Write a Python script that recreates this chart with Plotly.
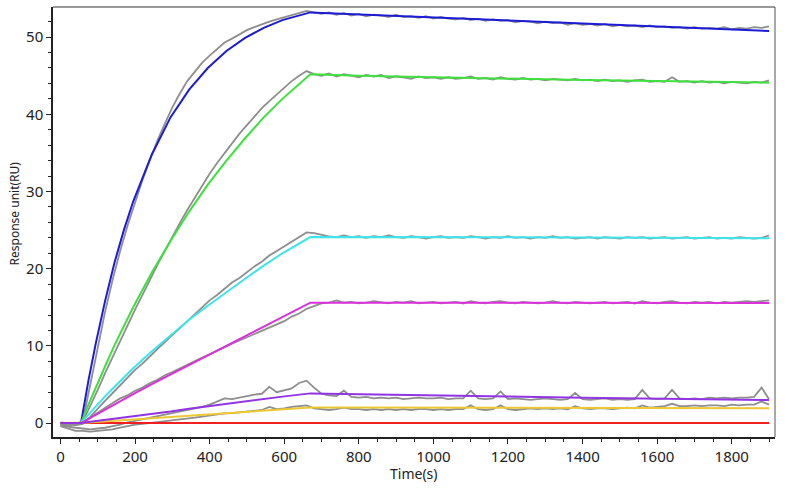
import plotly.graph_objects as go

# raw sensorgram time grid (s)
t_raw = list(range(0, 1901, 20))

raw_blue = [
    -0.2, -0.3, -0.2, 0.3, 5.0, 10.0, 14.5, 18.6, 22.3, 25.6,
    28.6, 31.5, 34.1, 36.6, 38.8, 40.9, 42.7, 44.3, 45.5, 46.7,
    47.6, 48.5, 49.3, 49.8, 50.4, 50.9, 51.3, 51.7, 52.0, 52.3,
    52.6, 52.8, 53.1, 53.4, 53.2, 53.0, 53.2, 52.9, 53.1, 52.8,
    53.0, 52.7, 52.9, 52.8, 52.6, 52.9, 52.6, 52.7, 52.5, 52.7,
    52.4, 52.6, 52.4, 52.3, 52.5, 52.2, 52.4, 52.1, 52.3, 52.1,
    52.2, 51.9, 52.1, 52.0, 51.8, 52.0, 51.8, 51.9, 51.6, 51.8,
    51.6, 51.7, 51.5, 51.7, 51.4, 51.6, 51.4, 51.5, 51.3, 51.5,
    51.3, 51.4, 51.2, 51.3, 51.1, 51.3, 51.1, 51.2, 51.1, 51.3,
    51.0, 51.2, 51.1, 51.3, 51.2, 51.4,
]
raw_green = [
    0.1, 0.0, -0.1, 0.2, 2.2, 4.3, 6.5, 8.6, 10.7, 12.7,
    14.7, 16.6, 18.6, 20.5, 22.3, 24.2, 25.9, 27.6, 29.2, 30.8,
    32.3, 33.7, 35.0, 36.3, 37.5, 38.6, 39.7, 40.8, 41.7, 42.6,
    43.5, 44.3, 45.0, 45.6, 45.2, 45.0, 45.3, 44.9, 45.2, 45.0,
    44.8, 45.1, 44.9, 45.1, 44.7, 44.9, 44.8, 44.6, 44.9, 44.7,
    44.8, 44.6, 44.8, 44.6, 44.7, 44.9, 44.6, 44.7, 44.5, 44.8,
    44.6, 44.5, 44.7, 44.5, 44.6, 44.4, 44.6, 44.5, 44.4, 44.6,
    44.4, 44.5, 44.3, 44.5, 44.3, 44.4, 44.2, 44.4, 44.5, 44.2,
    44.3, 44.2, 44.8, 44.2, 44.3, 44.1, 44.3, 44.1, 44.2, 44.0,
    44.2, 44.1, 44.0, 44.2, 44.1, 44.4,
]
raw_cyan = [
    -0.1, 0.0, -0.2, 0.0, 0.8, 1.9, 2.9, 3.9, 4.9, 5.8,
    6.9, 7.7, 8.7, 9.6, 10.5, 11.4, 12.3, 13.3, 14.1, 15.0,
    15.9, 16.6, 17.4, 18.2, 18.8, 19.6, 20.3, 20.9, 21.7, 22.3,
    22.9, 23.5, 24.1, 24.7, 24.6, 24.4, 24.2, 24.1, 24.3, 24.1,
    24.2, 24.0, 24.2, 24.1, 24.3, 24.1, 24.0, 24.2, 24.1, 23.9,
    24.1, 24.2, 24.0, 24.1, 24.0, 24.2, 24.1, 23.9, 24.1, 24.0,
    24.2, 24.0, 24.1, 23.9, 24.1, 24.0, 24.2, 24.0, 24.1, 23.9,
    24.0, 24.1, 23.9, 24.1, 24.0, 23.9, 24.1, 24.0, 24.1, 23.9,
    24.0, 24.1, 23.9, 24.0, 24.1, 23.9, 24.0, 24.1, 23.9, 24.0,
    23.9, 24.1, 24.0, 23.9, 24.0, 24.3,
]
raw_magenta = [
    -0.2, -0.1, -0.3, -0.1, 0.7, 1.4, 2.0, 2.6, 3.2, 3.6,
    4.2, 4.6, 5.2, 5.6, 6.2, 6.6, 7.1, 7.6, 8.0, 8.5,
    8.9, 9.4, 9.8, 10.3, 10.7, 11.1, 11.6, 11.9, 12.4, 12.8,
    13.2, 13.8, 14.2, 14.8, 15.2, 15.5, 15.6, 15.9, 15.6, 15.7,
    15.5, 15.6, 15.8, 15.6, 15.5, 15.7, 15.6, 15.8, 15.5, 15.6,
    15.7, 15.5, 15.6, 15.7, 15.5, 15.8, 15.6, 15.5, 15.7, 15.8,
    15.6, 15.5, 15.7, 15.6, 15.5, 15.6, 15.8, 15.6, 15.5, 15.7,
    15.6, 15.5, 15.6, 15.7, 15.5, 15.6, 15.7, 15.5, 15.8, 15.6,
    15.5, 15.7, 15.8, 15.6, 15.5, 15.7, 15.6, 15.7, 15.5, 15.7,
    15.6, 15.7, 15.8, 15.7, 15.8, 15.9,
]
raw_purple = [
    -0.3, -0.5, -0.6, -0.7, -0.8, -0.7, -0.6, -0.4, -0.2, 0.1,
    0.3, 0.5, 0.7, 0.9, 1.1, 1.3, 1.5, 1.7, 1.9, 2.1,
    2.4, 2.8, 3.2, 3.1, 3.3, 3.5, 3.7, 3.8, 4.7, 4.0,
    4.3, 4.5, 5.2, 5.5, 4.6, 3.8, 3.6, 3.5, 4.2, 3.4,
    3.3, 3.4, 3.2, 3.3, 3.2, 3.3, 3.1, 3.2, 3.3, 3.2,
    3.2, 3.3, 3.1, 3.2, 3.2, 4.2, 3.2, 3.1, 3.2, 4.1,
    3.1, 3.2, 3.1, 3.0, 3.1, 3.2, 3.1, 3.0, 3.1, 3.9,
    3.1, 3.0, 3.1, 3.2, 3.0, 3.1, 3.0, 3.1, 4.3, 3.2,
    3.1, 3.2, 4.3, 3.2, 3.1, 3.2, 3.1, 3.3, 3.2, 3.3,
    3.2, 3.3, 3.3, 3.4, 4.6, 3.1,
]
raw_yellow = [
    -0.4, -0.7, -1.0, -1.0, -1.1, -1.0, -0.9, -0.8, -0.6, -0.4,
    -0.2, -0.1, 0.0, 0.1, 0.2, 0.3, 0.45, 0.55, 0.7, 0.85,
    1.0, 1.1, 1.25, 1.3, 1.4, 1.5, 1.6, 1.7, 2.1, 1.8,
    1.9, 2.1, 2.2, 2.3, 1.9, 1.8, 1.7, 1.8, 2.0, 1.8,
    1.8, 1.7, 1.8, 1.7, 1.8, 1.7, 1.8, 1.7, 1.8, 1.8,
    1.7, 1.8, 1.7, 1.8, 1.8, 2.3, 1.8, 1.7, 1.8, 2.3,
    1.8, 1.7, 1.8, 1.9, 1.8, 1.9, 1.8, 1.9, 1.8, 2.2,
    1.9, 1.8, 1.9, 1.9, 1.8, 1.9, 2.0, 1.9, 2.3, 2.0,
    2.1, 2.2, 2.5, 2.2, 2.2, 2.3, 2.2, 2.3, 2.3, 2.2,
    2.4, 2.3, 2.4, 2.4, 2.8, 2.4,
]

# fitted curves
t_fit = [0, 55, 75, 95, 120, 145, 170, 195, 245, 295, 345, 395, 445, 495,
         545, 595, 670, 800, 1000, 1200, 1400, 1600, 1800, 1900]

fit_blue = [0, 0, 5.5, 10.4, 15.9, 20.8, 25.0, 28.7, 34.8, 39.6, 43.2, 46.0, 48.2,
            49.9, 51.2, 52.2, 53.2, 52.95, 52.55, 52.15, 51.75, 51.4, 51.0, 50.8]
fit_green = [0, 0, 2.4, 4.7, 7.4, 10.1, 12.6, 15.0, 19.5, 23.6, 27.4, 30.9, 34.0,
             36.9, 39.6, 42.0, 45.2, 45.0, 44.8, 44.6, 44.45, 44.3, 44.15, 44.1]
fit_cyan = [0, 0, 1.1, 2.2, 3.5, 4.7, 5.9, 7.1, 9.3, 11.4, 13.4, 15.2, 17.0,
            18.7, 20.4, 22.0, 24.1, 24.1, 24.1, 24.05, 24.05, 24.0, 24.0, 23.95]
fit_magenta = [0, 0, 0.55, 1.1, 1.78, 2.45, 3.1, 3.75, 5.05, 6.3, 7.55, 8.8, 10.05,
               11.3, 12.5, 13.75, 15.6, 15.6, 15.6, 15.6, 15.58, 15.57, 15.56, 15.55]
fit_purple = [0, 0, 0.13, 0.25, 0.41, 0.56, 0.72, 0.88, 1.19, 1.5, 1.87, 2.2, 2.52,
              2.83, 3.13, 3.43, 3.85, 3.73, 3.58, 3.43, 3.3, 3.17, 3.04, 2.98]
fit_yellow = [0, 0, 0.07, 0.13, 0.21, 0.3, 0.38, 0.46, 0.63, 0.79, 0.96, 1.12, 1.29,
              1.45, 1.62, 1.78, 2.03, 2.02, 2.0, 1.99, 1.98, 1.96, 1.94, 1.93]
fit_red = [0, 0, 0, 0, 0, 0, 0, 0, 0, 0, 0, 0, 0,
           0, 0, 0, 0, 0, 0, 0, 0, 0, 0, 0]

fig = go.Figure()

for ys in [raw_blue, raw_green, raw_cyan, raw_magenta, raw_purple, raw_yellow]:
    fig.add_trace(go.Scatter(x=t_raw, y=ys, mode="lines",
                             line=dict(color="#8e8e8e", width=1.8)))

fits = [
    (fit_blue, "#1c1cd6"),
    (fit_green, "#3ee03e"),
    (fit_cyan, "#3ee4ec"),
    (fit_magenta, "#dc30dc"),
    (fit_red, "#f02020"),
    (fit_yellow, "#ecc832"),
    (fit_purple, "#9233e4"),
]
for ys, col in fits:
    fig.add_trace(go.Scatter(x=t_fit, y=ys, mode="lines",
                             line=dict(color=col, width=2)))

font = "Noto Sans, Open Sans, sans-serif"
fig.update_layout(
    width=794, height=488,
    margin=dict(l=53, r=19, t=7, b=51),
    paper_bgcolor="white", plot_bgcolor="white",
    showlegend=False,
    font=dict(family=font, color="#222222"),
    shapes=[
        dict(type="line", xref="paper", yref="paper", x0=0, x1=1, y0=1, y1=1,
             line=dict(color="#999999", width=2)),
        dict(type="line", xref="paper", yref="paper", x0=1, x1=1, y0=0, y1=1,
             line=dict(color="#555555", width=1)),
    ],
    annotations=[
        dict(text="Response unit(RU)", xref="paper", yref="paper",
             x=-0.054, y=0.52, textangle=-90, showarrow=False,
             xanchor="center", yanchor="middle", font=dict(size=12)),
        dict(text="Time(s)", xref="paper", yref="paper",
             x=0.5, y=-0.086, showarrow=False,
             xanchor="center", yanchor="middle", font=dict(size=14)),
    ],
)
fig.update_xaxes(
    range=[-20, 1916], showgrid=False, zeroline=False, automargin=False,
    showline=True, linecolor="#222222", linewidth=1.5,
    tickmode="linear", tick0=0, dtick=200,
    ticks="outside", ticklen=5, tickcolor="#222222", tickwidth=1,
    minor=dict(dtick=50, ticks="outside", ticklen=3, tickcolor="#222222"),
    tickfont=dict(size=15),
)
fig.update_yaxes(
    range=[-1.8, 53.9], showgrid=False, zeroline=False, automargin=False,
    showline=True, linecolor="#222222", linewidth=1.5,
    tickmode="linear", tick0=0, dtick=10,
    ticks="outside", ticklen=5, tickcolor="#222222", tickwidth=1,
    minor=dict(dtick=2, ticks="outside", ticklen=3, tickcolor="#222222"),
    tickfont=dict(size=15),
)

# the page's default body margin would shift the figure by 8px
fig.write_html("out.html", config={"displayModeBar": False},
               post_script="document.body.style.margin='0';")
